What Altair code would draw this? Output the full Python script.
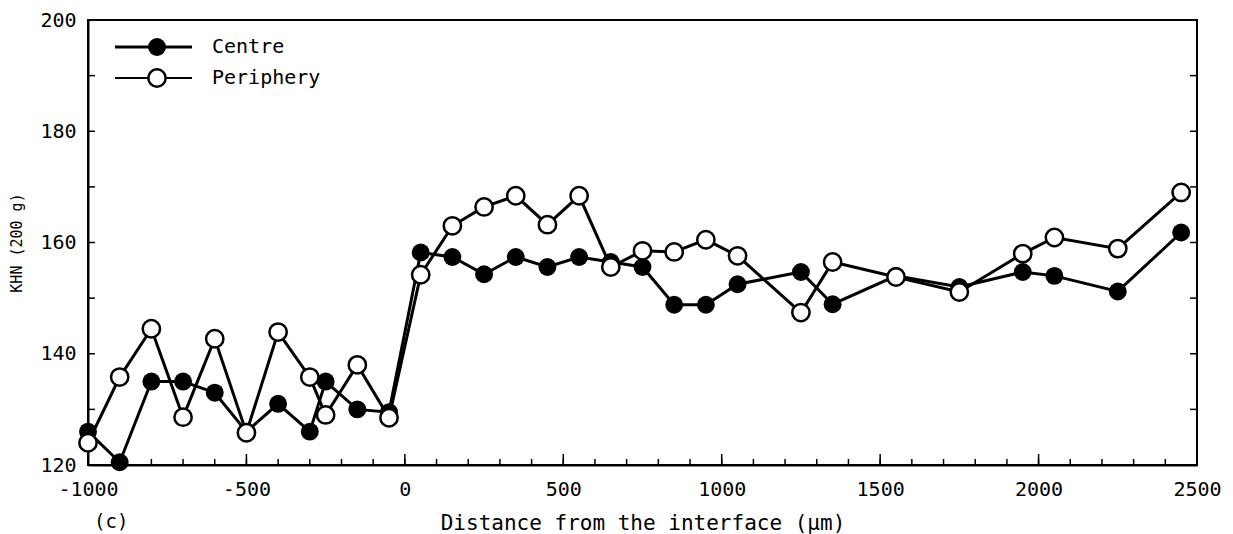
import altair as alt
import pandas as pd

# ---- data ----
distance = [-1000, -900, -800, -700, -600, -500, -400, -300, -250, -150, -50,
            50, 150, 250, 350, 450, 550, 650, 750, 850, 950, 1050, 1250, 1350,
            1550, 1750, 1950, 2050, 2250, 2450]
centre = [126, 120.5, 135, 135, 133, 126, 131, 126, 135, 130, 129.5,
          158.2, 157.4, 154.3, 157.4, 155.6, 157.4, 156.5, 155.6, 148.8, 148.8, 152.5, 154.7, 148.9,
          154, 152, 154.7, 154, 151.2, 161.8]
periphery = [124, 135.8, 144.5, 128.6, 142.7, 125.8, 143.9, 135.8, 129, 138, 128.5,
             154.2, 163, 166.4, 168.4, 163.2, 168.4, 155.6, 158.5, 158.3, 160.5, 157.6, 147.4, 156.5,
             153.8, 151.1, 158, 160.9, 158.9, 169]
series_names = ["Centre", "Periphery"]
x_labels = [-1000, -500, 0, 500, 1000, 1500, 2000, 2500]
y_labels = [120, 140, 160, 180, 200]
x_minor = list(range(-900, 2500, 100))
x_major = [-500, 0, 500, 1000, 1500, 2000]
y_minor = [130, 140, 150, 160, 170, 180, 190]

W, H = 1109, 445
FONT = "DejaVu Sans Mono"

df = pd.DataFrame({
    "x": distance * 2,
    "khn": centre + periphery,
    "series": [series_names[0]] * len(distance) + [series_names[1]] * len(distance),
})

xs = alt.Scale(domain=[-1000, 2500], nice=False, zero=False)
ys = alt.Scale(domain=[120, 200], nice=False, zero=False)

xax = alt.Axis(values=x_labels, ticks=False, grid=False, domainColor="black", domainWidth=2,
               labelFont=FONT, labelFontSize=20, labelColor="black", labelPadding=14,
               labelFlush=False, labelExpr="toString(datum.value)",
               title="Distance from the interface (\u03bcm)",
               titleFont=FONT, titleFontSize=21, titleFontWeight="normal", titleColor="black",
               titleY=58, titleBaseline="middle")
yax = alt.Axis(values=y_labels, ticks=False, grid=False, domainColor="black", domainWidth=2,
               labelFont=FONT, labelFontSize=20, labelColor="black", labelPadding=12,
               labelFlush=False, title="KHN (200 g)", titleFont=FONT, titleFontSize=15,
               titleFontWeight="normal", titleColor="black", titleX=-64)

base = alt.Chart(df)
lines = base.mark_line(color="black", strokeWidth=3).encode(
    x=alt.X("x:Q", scale=xs, axis=xax),
    y=alt.Y("khn:Q", scale=ys, axis=yax),
    detail="series:N",
)
filled = base.transform_filter(alt.datum.series == series_names[0]).mark_point(
    shape="circle", filled=True, color="black", size=320, opacity=1
).encode(x=alt.X("x:Q", scale=xs), y=alt.Y("khn:Q", scale=ys))
opened = base.transform_filter(alt.datum.series == series_names[1]).mark_point(
    shape="circle", filled=True, fill="white", stroke="black", strokeWidth=2.5, size=300, opacity=1
).encode(x=alt.X("x:Q", scale=xs), y=alt.Y("khn:Q", scale=ys))

# inward ticks
tick_minor = alt.Chart(pd.DataFrame({"x": x_minor})).mark_rule(color="black", strokeWidth=1.5).encode(
    x=alt.X("x:Q", scale=xs), y=alt.value(H), y2=alt.value(H - 6))
tick_major = alt.Chart(pd.DataFrame({"x": x_major})).mark_rule(color="black", strokeWidth=1.5).encode(
    x=alt.X("x:Q", scale=xs), y=alt.value(H), y2=alt.value(H - 11))
tick_left = alt.Chart(pd.DataFrame({"khn": y_minor})).mark_rule(color="black", strokeWidth=1.5).encode(
    y=alt.Y("khn:Q", scale=ys), x=alt.value(0), x2=alt.value(7))
tick_right = alt.Chart(pd.DataFrame({"khn": y_minor})).mark_rule(color="black", strokeWidth=1.5).encode(
    y=alt.Y("khn:Q", scale=ys), x=alt.value(W), x2=alt.value(W - 7))

# legend
one = pd.DataFrame({"label": ["Centre"]})
two = pd.DataFrame({"label": ["Periphery"]})
leg_line1 = alt.Chart(one).mark_rule(color="black", strokeWidth=3).encode(
    x=alt.value(27), x2=alt.value(104), y=alt.value(27))
leg_pt1 = alt.Chart(one).mark_point(shape="circle", filled=True, color="black", size=320, opacity=1).encode(
    x=alt.value(69), y=alt.value(27))
leg_txt1 = alt.Chart(one).mark_text(align="left", baseline="middle", font=FONT, fontSize=20, color="black").encode(
    x=alt.value(124), y=alt.value(27), text="label:N")
leg_line2 = alt.Chart(two).mark_rule(color="black", strokeWidth=2).encode(
    x=alt.value(27), x2=alt.value(104), y=alt.value(58))
leg_pt2 = alt.Chart(two).mark_point(shape="circle", filled=True, fill="white", stroke="black",
                                    strokeWidth=2.5, size=300, opacity=1).encode(
    x=alt.value(69), y=alt.value(58))
leg_txt2 = alt.Chart(two).mark_text(align="left", baseline="middle", font=FONT, fontSize=20, color="black").encode(
    x=alt.value(124), y=alt.value(58), text="label:N")

tag = alt.Chart(pd.DataFrame({"label": ["(c)"]})).mark_text(
    align="left", baseline="middle", font=FONT, fontSize=19, color="black").encode(
    x=alt.value(6), y=alt.value(57 + H), text="label:N")

chart = alt.layer(
    lines, filled, opened, tick_minor, tick_major, tick_left, tick_right,
    leg_line1, leg_pt1, leg_txt1, leg_line2, leg_pt2, leg_txt2, tag
).properties(
    width=W, height=H,
    background="white",
    autosize=alt.AutoSizeParams(type="none"),
    padding={"left": 80, "top": 12, "right": 28, "bottom": 72},
).configure_view(stroke="black", strokeWidth=2)

chart.save("out.html", embed_options={"renderer": "svg", "actions": False})
